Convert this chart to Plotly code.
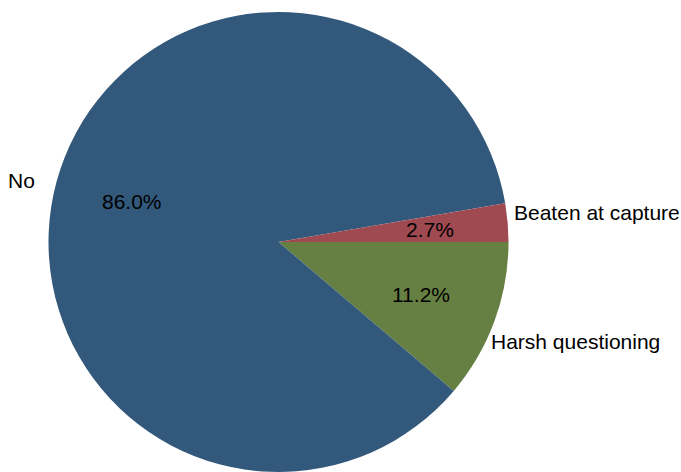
import math
import plotly.graph_objects as go

# Responses and their shares (percent), listed clockwise from 3 o'clock
categories = ["Harsh questioning", "No", "Beaten at capture"]
shares = [11.2, 86.0, 2.7]
colors = ["#667f42", "#32597c", "#9f4a51"]

W, H = 681, 472
cx, cy, R = 278.5, 242.0, 230.0   # pie centre / radius in pixels
FONT = dict(family="Liberation Sans, Arial, sans-serif", size=21, color="#000000")

fig = go.Figure(go.Pie(
    labels=categories,
    values=shares,
    sort=False,
    direction="clockwise",
    rotation=90,
    marker=dict(colors=colors, line=dict(width=0)),
    textinfo="none",
    hoverinfo="label+percent",
    showlegend=False,
    domain=dict(x=[(cx - R) / W, (cx + R) / W],
                y=[(H - cy - R) / H, (H - cy + R) / H]),
))

# label nudges (pixels) for the outer category names
name_shift = {"Beaten at capture": (0, 10), "No": (-16, 0), "Harsh questioning": (-9, -19)}

total = sum(shares)
start = 0.0
annotations = []
for name, v in zip(categories, shares):
    frac = v / total
    mid = -math.radians(360 * (start + frac / 2))   # clockwise from east
    start += frac
    c, s = math.cos(mid), math.sin(mid)
    # percentage inside the slice
    px, py = cx + 0.66 * R * c, cy - 0.66 * R * s
    annotations.append(dict(x=px / W, y=1 - py / H, xref="paper", yref="paper",
                            text=f"{v:.1f}%", showarrow=False,
                            xanchor="center", yanchor="middle", font=FONT))
    # category name just outside the rim
    ox, oy = cx + (R + 4) * c, cy - (R + 4) * s
    dx, dy = name_shift[name]
    annotations.append(dict(x=ox / W, y=1 - oy / H, xref="paper", yref="paper",
                            text=name, showarrow=False,
                            xanchor="left" if c >= 0 else "right", yanchor="middle",
                            xshift=dx, yshift=dy, font=FONT))

fig.update_layout(
    width=W, height=H,
    margin=dict(l=0, r=0, t=0, b=0),
    paper_bgcolor="#ffffff",
    plot_bgcolor="#ffffff",
    annotations=annotations,
)

fig.write_html("out.html")
